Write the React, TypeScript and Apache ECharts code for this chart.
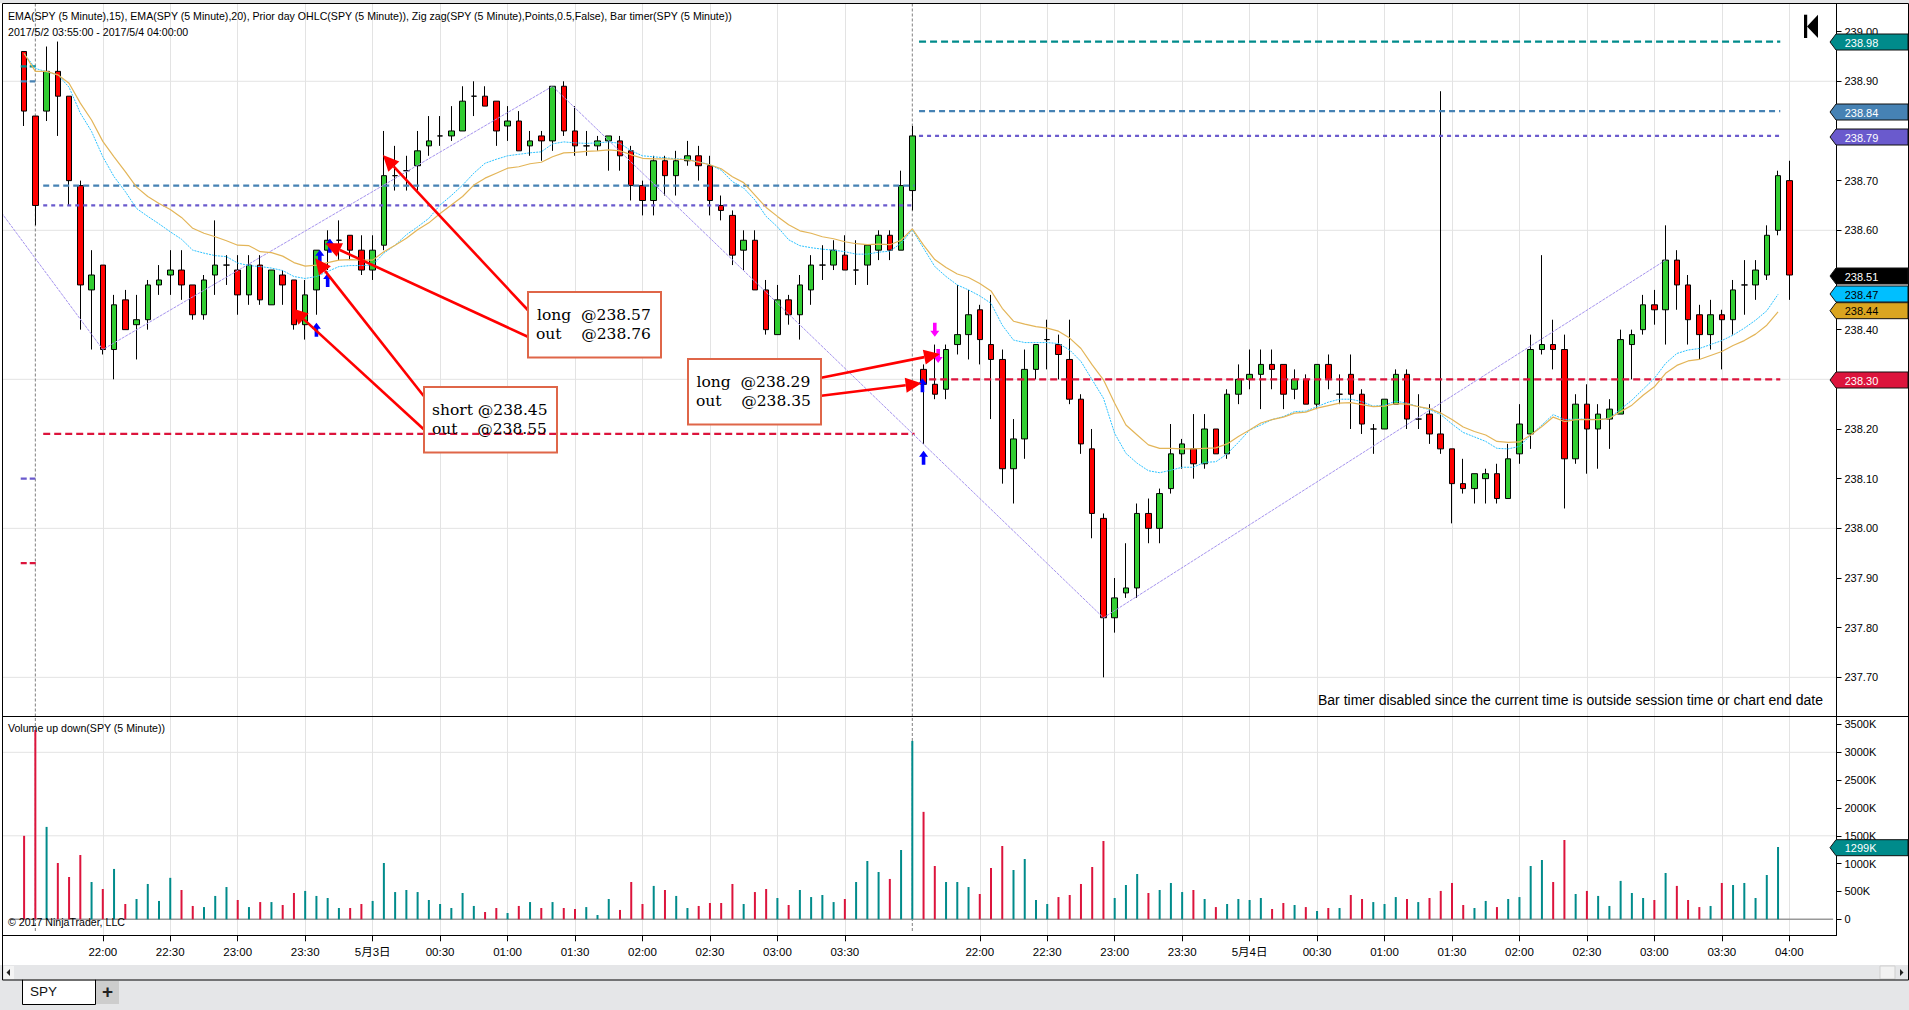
import React, { useEffect, useRef } from "react";
import * as echarts from "echarts";

const opens = [238.96,238.83,238.84,238.92,238.87,238.69,238.48,238.53,238.36,238.46,
238.41,238.42,238.49,238.51,238.52,238.49,238.43,238.51,238.53,238.52,
238.47,238.53,238.45,238.51,238.50,238.41,238.48,238.56,238.58,238.59,
238.56,238.52,238.57,238.71,238.72,238.73,238.77,238.79,238.79,238.80,
238.87,238.87,238.86,238.81,238.82,238.77,238.79,238.78,238.89,238.80,
238.77,238.77,238.78,238.78,238.76,238.69,238.66,238.74,238.71,238.74,
238.75,238.73,238.65,238.63,238.56,238.58,238.48,238.39,238.46,238.43,
238.48,238.53,238.53,238.55,238.52,238.53,238.56,238.59,238.56,238.68,
238.32,238.29,238.28,238.37,238.39,238.44,238.37,238.34,238.12,238.18,
238.32,238.38,238.37,238.34,238.26,238.16,238.02,237.82,237.87,237.88,
238.03,238.00,238.08,238.15,238.16,238.13,238.20,238.15,238.27,238.30,
238.31,238.33,238.33,238.28,238.30,238.25,238.33,238.27,238.31,238.27,
238.20,238.20,238.25,238.31,238.22,238.23,238.19,238.16,238.09,238.08,
238.10,238.11,238.06,238.15,238.19,238.36,238.37,238.36,238.14,238.25,
238.20,238.22,238.23,238.37,238.40,238.45,238.44,238.54,238.49,238.43,
238.39,238.43,238.42,238.49,238.49,238.51,238.60,238.70];
const closes = [238.84,238.65,238.92,238.87,238.70,238.49,238.51,238.36,238.45,238.40,
238.42,238.49,238.50,238.52,238.49,238.43,238.50,238.53,238.53,238.47,
238.53,238.46,238.52,238.49,238.41,238.47,238.56,238.58,238.58,238.56,
238.52,238.56,238.71,238.71,238.72,238.76,238.78,238.79,238.80,238.86,
238.87,238.85,238.80,238.82,238.76,238.78,238.78,238.89,238.80,238.77,
238.77,238.78,238.79,238.75,238.69,238.66,238.74,238.71,238.74,238.75,
238.73,238.66,238.64,238.55,238.58,238.48,238.40,238.46,238.43,238.49,
238.53,238.53,238.56,238.52,238.52,238.57,238.59,238.56,238.69,238.79,
238.29,238.27,238.36,238.39,238.43,238.38,238.34,238.12,238.18,238.32,
238.37,238.38,238.35,238.26,238.17,238.03,237.82,237.86,237.88,238.03,
238.00,238.07,238.15,238.17,238.13,238.20,238.15,238.27,238.30,238.31,
238.33,238.32,238.27,238.30,238.25,238.33,238.30,238.27,238.27,238.21,
238.20,238.26,238.31,238.22,238.22,238.19,238.16,238.09,238.08,238.11,
238.11,238.06,238.14,238.21,238.36,238.37,238.36,238.14,238.25,238.20,
238.23,238.24,238.38,238.39,238.45,238.44,238.54,238.49,238.42,238.39,
238.43,238.42,238.48,238.49,238.52,238.59,238.71,238.51];
const lows = [238.81,238.61,238.82,238.79,238.65,238.40,238.36,238.35,238.30,238.40,
238.34,238.40,238.47,238.47,238.46,238.42,238.42,238.47,238.49,238.43,
238.45,238.45,238.45,238.45,238.40,238.38,238.43,238.52,238.54,238.54,
238.51,238.50,238.56,238.68,238.68,238.68,238.75,238.77,238.78,238.80,
238.83,238.85,238.77,238.78,238.76,238.75,238.74,238.76,238.79,238.75,
238.75,238.76,238.72,238.72,238.66,238.63,238.63,238.67,238.67,238.73,
238.70,238.63,238.62,238.53,238.52,238.48,238.39,238.39,238.41,238.38,
238.45,238.50,238.52,238.52,238.49,238.49,238.54,238.54,238.56,238.64,
238.17,238.26,238.26,238.35,238.34,238.33,238.22,238.09,238.05,238.14,
238.30,238.32,238.30,238.25,238.15,237.98,237.70,237.79,237.86,237.86,
237.97,237.97,238.07,238.12,238.10,238.12,238.15,238.14,238.25,238.28,
238.24,238.28,238.24,238.26,238.25,238.24,238.28,238.25,238.20,238.19,
238.15,238.20,238.25,238.20,238.20,238.17,238.15,238.01,238.07,238.05,
238.05,238.05,238.06,238.13,238.16,238.35,238.32,238.04,238.13,238.11,
238.12,238.16,238.23,238.30,238.39,238.41,238.37,238.44,238.37,238.34,
238.36,238.32,238.39,238.43,238.46,238.50,238.59,238.46];
const highs = [238.96,238.83,238.97,238.98,238.87,238.70,238.56,238.53,238.47,238.48,
238.47,238.50,238.53,238.56,238.56,238.49,238.51,238.62,238.55,238.55,
238.55,238.55,238.52,238.52,238.50,238.50,238.56,238.60,238.62,238.59,
238.59,238.59,238.80,238.77,238.75,238.80,238.83,238.83,238.85,238.89,
238.90,238.89,238.86,238.85,238.84,238.80,238.80,238.89,238.90,238.85,
238.80,238.79,238.79,238.79,238.77,238.70,238.75,238.75,238.76,238.78,
238.77,238.75,238.67,238.64,238.60,238.60,238.50,238.49,238.47,238.51,
238.55,238.57,238.58,238.59,238.58,238.57,238.60,238.60,238.72,238.81,
238.33,238.37,238.37,238.49,238.48,238.45,238.47,238.36,238.22,238.36,
238.37,238.42,238.39,238.42,238.27,238.20,238.03,237.90,237.97,238.05,
238.06,238.08,238.21,238.18,238.23,238.23,238.20,238.28,238.33,238.36,
238.36,238.36,238.33,238.32,238.31,238.33,238.35,238.31,238.35,238.28,
238.21,238.26,238.32,238.32,238.27,238.25,238.88,238.16,238.14,238.11,
238.12,238.13,238.17,238.25,238.39,238.55,238.42,238.39,238.27,238.29,
238.25,238.26,238.40,238.40,238.47,238.48,238.61,238.56,238.51,238.45,
238.46,238.44,238.50,238.54,238.54,238.61,238.72,238.74];
const volumes = [1500,3400,1660,1012,760,1155,670,545,905,275,
365,635,330,745,527,240,220,420,580,347,
220,310,310,257,473,510,420,383,203,203,
275,330,1012,490,527,490,347,275,203,473,
240,132,203,114,240,310,203,310,203,185,
220,78,365,168,670,275,600,527,420,203,
240,293,293,635,275,490,545,383,257,527,
400,437,310,365,670,1048,850,725,1245,3204,
1930,958,670,670,580,455,922,1317,886,1084,
347,275,400,437,635,940,1407,383,617,814,
473,527,653,490,527,365,220,275,365,347,
383,185,293,257,220,150,203,203,437,365,
310,275,400,365,310,383,510,653,257,203,
330,220,365,400,958,1066,670,1425,455,510,
420,240,690,473,383,347,832,600,347,220,
240,653,617,653,383,796,1299];
const ema15 = [238.956,238.926,238.919,238.913,238.888,238.836,238.799,238.748,238.708,238.678,
238.644,238.628,238.613,238.597,238.582,238.56,238.554,238.549,238.547,238.534,
238.529,238.527,238.524,238.519,238.507,238.503,238.507,238.517,238.527,238.529,
238.529,238.53,238.554,238.57,238.591,238.607,238.624,238.651,238.67,238.691,
238.715,238.735,238.743,238.75,238.753,238.756,238.758,238.774,238.778,238.776,
238.775,238.776,238.778,238.775,238.76,238.75,238.748,238.746,238.744,238.743,
238.738,238.732,238.721,238.698,238.685,238.661,238.628,238.607,238.581,238.569,
238.565,238.562,238.56,238.557,238.552,238.552,238.556,238.558,238.574,238.601,
238.564,238.527,238.507,238.49,238.48,238.468,238.453,238.409,238.379,238.374,
238.374,238.374,238.372,238.359,238.336,238.299,238.262,238.191,238.151,238.131,
238.116,238.112,238.117,238.123,238.123,238.133,238.134,238.15,238.173,238.198,
238.208,238.219,238.225,238.235,238.236,238.245,238.254,238.26,238.26,238.255,
238.246,238.248,238.256,238.252,238.245,238.239,238.229,238.21,238.193,238.184,
238.175,238.161,238.16,238.165,238.188,238.208,238.229,238.219,238.22,238.22,
238.219,238.222,238.24,238.258,238.28,238.302,238.332,238.352,238.359,238.362,
238.37,238.378,238.389,238.403,238.419,238.438,238.471];
const ema20 = [238.956,238.92,238.92,238.913,238.896,238.856,238.822,238.779,238.748,238.718,
238.687,238.668,238.654,238.642,238.626,238.604,238.594,238.587,238.579,238.57,
238.569,238.557,238.555,238.548,238.535,238.528,238.53,238.535,238.54,238.541,
238.54,238.54,238.557,238.57,238.584,238.601,238.615,238.634,238.651,238.668,
238.691,238.705,238.715,238.725,238.728,238.734,238.737,238.748,238.756,238.757,
238.759,238.76,238.762,238.76,238.752,238.745,238.744,238.744,238.743,238.742,
238.737,238.732,238.724,238.708,238.696,238.671,238.646,238.628,238.611,238.599,
238.594,238.587,238.583,238.577,238.573,238.571,238.572,238.571,238.58,238.603,
238.57,238.541,238.525,238.512,238.505,238.493,238.478,238.443,238.417,238.411,
238.406,238.403,238.397,238.383,238.362,238.329,238.299,238.252,238.208,238.188,
238.168,238.161,238.161,238.16,238.16,238.161,238.162,238.17,238.185,238.198,
238.212,238.219,238.224,238.232,238.234,238.242,238.247,238.252,238.253,238.249,
238.245,238.246,238.251,238.25,238.245,238.241,238.232,238.219,238.204,238.195,
238.188,238.175,238.173,238.174,238.188,238.205,238.224,238.215,238.219,238.219,
238.219,238.221,238.235,238.248,238.268,238.285,238.312,238.328,238.337,238.34,
238.348,238.356,238.368,238.378,238.391,238.409,238.436];
const zigzag = [[-2, 238.635], [7, 238.36], [47, 238.89], [96, 237.82], [146, 238.54]];

const tickIndices = [7,13,19,25,31,37,43,49,55,61,67,73,85,91,97,103,109,115,121,127,133,139,145,151,157];
const tickLabels = ["22:00","22:30","23:00","23:30","5月3日","00:30","01:00","01:30","02:00","02:30","03:00","03:30","22:00","22:30","23:00","23:30","5月4日","00:30","01:00","01:30","02:00","02:30","03:00","03:30","04:00"];
const priceTicks = [237.7,237.8,237.9,238.0,238.1,238.2,238.3,238.4,238.5,238.6,238.7,238.9,239.0];
const priceGrid = [237.7,238.0,238.3,238.6,238.9];
const volumeTicks = [0,500,1000,1500,2000,2500,3000,3500];
const volumeGrid = [1500,3000];
const sessionBreaks = [1, 79];
const upArrows = [[26,238.40],[27,238.50],[80,238.142],[27.2,238.569],[26.3,238.547],[79.9,238.288]];
const downArrows = [[81,238.4],[81.3,238.347]];

const C = { up:"#32CD32", down:"#FF0000", teal:"#008B8B", crimson:"#DC143C", steel:"#4682B4", slate:"#6A5ACD",
  grid:"#e3e3e3", cyan:"#2cc3ff", gold:"#e3b558", zig:"#a593ee", box:"#df6648", shell:"#e5e6e8" };
const SANS = '"Liberation Sans", Arial, sans-serif';

// prior-day OHLC levels: [price, colour, dash, from, to]
const levels: any[] = [
  [238.93, C.teal, [6,3], -0.3, 1.1],[238.90, C.steel, [6,3], -0.3, 1.0],[238.10, C.slate, [6,3], -0.3, 1.0],[237.93, C.crimson, [6,3], -0.3, 1.2],
  [238.69, C.steel, [6,4], 1.7, 79.2],[238.65, C.slate, [4,4], 1.7, 79.2],[238.19, C.crimson, [7,4], 1.7, 79.2],
  [238.98, C.teal, [7,4], 79.6, 156.2],[238.84, C.steel, [6,4], 79.6, 156.2],[238.79, C.slate, [4,4], 79.6, 156.2],[238.30, C.crimson, [7,4], 80.5, 156.2],
];
const pills: any[] = [
  ["238.98",42,C.teal,"#fff"],["238.84",112,C.steel,"#fff"],["238.79",137,C.slate,"#fff"],["238.51",276,"#000","#fff"],
  ["238.47",294,"#00BFFF","#000"],["238.44",310.7,"#DAA520","#000"],["238.30",380,C.crimson,"#fff"],["1299K",847.7,C.teal,"#fff"],
];
const noteBoxes: any[] = [
  { x:528, y:292, w:133, h:65.5, lines:[["long  @238.57",537,315],["out    @238.76",536,334]] },
  { x:424, y:387, w:133, h:65.5, lines:[["short @238.45",432,410],["out    @238.55",432,429.3]] },
  { x:688, y:359, w:133, h:65.5, lines:[["long  @238.29",696.5,382.3],["out    @238.35",696,401.3]] },
];
const callouts = [
  [527.8,310,382.9,155],[527.8,336.7,325.3,243.3],[423.7,396,315.1,258.3],[423.7,429.3,291.8,308.3],[821.2,377.7,940,354],[821.2,395.7,921.6,383.3],
];

const X_MIN = -1.8767, X_MAX = 161.2;
const P_MIN = 237.6212, P_MAX = 239.0566;
const V_MIN = -287, V_MAX = 3643;

function txt(text: string, x: number, y: number, size: number, extra: any = {}) {
  return { type:"text", z:20, silent:true, style:{ text, x, y, fill:"#000", font:`${size}px ${SANS}`, textAlign:"left", textVerticalAlign:"middle", ...extra } };
}
function rect(x:number,y:number,w:number,h:number,fill:string,z=0,stroke?:string,lw=1){
  return { type:"rect", z, silent:true, shape:{x,y,width:w,height:h}, style:{fill, stroke, lineWidth:lw} };
}
function ln(x1:number,y1:number,x2:number,y2:number,stroke:string,lw=1,z=15){
  return { type:"line", z, silent:true, shape:{x1,y1,x2,y2}, style:{stroke, lineWidth:lw} };
}
function arrow(a:number[]){
  const [x1,y1,x2,y2]=a; const L=Math.hypot(x2-x1,y2-y1); const ux=(x2-x1)/L, uy=(y2-y1)/L; const hl=16, hw=7.5;
  const bx=x2-ux*hl, by=y2-uy*hl;
  return [ ln(x1,y1,bx,by,"#f00",2.6,18),
    { type:"polygon", z:18, silent:true, shape:{points:[[x2,y2],[bx-uy*hw,by+ux*hw],[bx+uy*hw,by-ux*hw]]}, style:{fill:"#f00"} } ];
}
function pill(p:any[]){
  const [t,cy,bg,fg]=p;
  return [
    { type:"polygon", z:16, silent:true, shape:{points:[[1830,cy],[1836,cy-8],[1908,cy-8],[1908,cy+8],[1836,cy+8]]}, style:{fill:bg, stroke:"#111", lineWidth:1} },
    txt(t,1844.7,cy+0.5,11,{fill:fg}),
  ];
}

function staticLine(data:number[][], color:string, width:number, type:any, xi:number, z=1): any {
  return { type:"line", xAxisIndex:xi, yAxisIndex:xi, data, showSymbol:false, symbol:"none", silent:true, z,
    lineStyle:{ color, width, type }, itemStyle:{color}, animation:false };
}

export default function App() {
  const ref = useRef<HTMLDivElement>(null);
  useEffect(() => {
    document.body.style.margin = "0";
    const chart = echarts.init(ref.current!, undefined, { renderer: "svg" });
    const candles = opens.map((o,i)=>[i,o,closes[i],lows[i],highs[i]]);
    const volData = volumes.map((v,i)=>({ value:[i,v], itemStyle:{ color: closes[i]<opens[i] ? C.crimson : C.teal } }));
    const baseX = { type:"value", min:X_MIN, max:X_MAX, axisLine:{show:false, onZero:false},
      axisTick:{show:false, customValues:tickIndices}, splitLine:{show:true, lineStyle:{color:C.grid,width:1}}, axisLabel:{show:false, customValues:tickIndices} };
    const option: any = {
      animation:false, backgroundColor:"#fff",
      grid:[ {left:3, right:72.5, top:3.5, height:713}, {left:3, right:72.5, top:716.5, height:218.8} ],
      xAxis:[ {...baseX, gridIndex:0},
        {...baseX, gridIndex:1,
          axisTick:{show:true, length:6, lineStyle:{color:"#000"}, customValues:tickIndices},
          axisLine:{show:true, onZero:false, lineStyle:{color:"#000"}},
          axisLabel:{show:true, customValues:tickIndices, margin:11, color:"#000", fontSize:11.5, fontFamily:`${SANS}, "Noto Sans CJK SC"`,
            hideOverlap:false, showMinLabel:true, showMaxLabel:true,
            formatter:(v:number)=>{ const k=tickIndices.indexOf(Math.round(v)); return k>=0?tickLabels[k]:""; } } } ],
      yAxis:[
        { type:"value", gridIndex:0, position:"right", min:P_MIN, max:P_MAX, splitLine:{show:false},
          axisLine:{show:true, onZero:false, lineStyle:{color:"#000"}}, axisTick:{show:true, length:5, lineStyle:{color:"#000"}, customValues:priceTicks},
          axisLabel:{customValues:priceTicks, margin:8, color:"#000", fontSize:11, padding:[2,0,0,0], fontFamily:SANS, formatter:(v:number)=>v.toFixed(2)} },
        { type:"value", gridIndex:1, position:"right", min:V_MIN, max:V_MAX, splitLine:{show:false},
          axisLine:{show:true, onZero:false, lineStyle:{color:"#000"}}, axisTick:{show:true, length:5, lineStyle:{color:"#000"}, customValues:volumeTicks},
          axisLabel:{customValues:volumeTicks, margin:8, color:"#000", fontSize:11, padding:[2,0,0,0], fontFamily:SANS, formatter:(v:number)=>v===0?"0":`${v}K`} } ],
      series:[
        ...priceGrid.map(p=>staticLine([[X_MIN,p],[X_MAX,p]],C.grid,1,"solid",0,0)),
        ...volumeGrid.map(v=>staticLine([[X_MIN,v],[X_MAX,v]],C.grid,1,"solid",1,0)),
        staticLine([[X_MIN+0.6,0],[X_MAX-0.3,0]],"#999",1.5,"solid",1,3),
        ...sessionBreaks.map(b=>staticLine([[b,P_MIN],[b,P_MAX]],"#808080",1,[3,2],0,1)),
        ...sessionBreaks.map(b=>staticLine([[b,-210],[b,V_MAX]],"#808080",1,[3,2],1,1)),
        { type:"candlestick", xAxisIndex:0, yAxisIndex:0, data:candles, barWidth:6, z:3, silent:true,
          itemStyle:{ color:C.up, color0:C.down, borderColor:"#000", borderColor0:"#000", borderColorDoji:"#000", borderWidth:1 } },
        ...levels.map(l=>staticLine([[l[3],l[0]],[l[4],l[0]]],l[1],2.2,l[2],0,4)),
        staticLine(zigzag,C.zig,1,[3,1],0,5),
        staticLine(ema15.map((v,i)=>[i,v]),C.cyan,1,[2,1],0,6),
        staticLine(ema20.map((v,i)=>[i,v]),C.gold,1.2,"solid",0,6),
        { type:"scatter", xAxisIndex:0, yAxisIndex:0, z:7, silent:true, data:upArrows, symbol:"path://M5 0L10 6L7 6L7 14L3 14L3 6L0 6Z", symbolSize:[9,14], itemStyle:{color:"#0000ff", opacity:1} },
        { type:"scatter", xAxisIndex:0, yAxisIndex:0, z:7, silent:true, data:downArrows, symbol:"path://M5 0L10 6L7 6L7 14L3 14L3 6L0 6Z", symbolRotate:180, symbolSize:[9,14], itemStyle:{color:"#ff00ff", opacity:1} },
        { type:"bar", xAxisIndex:1, yAxisIndex:1, data:volData, barWidth:2, z:4, silent:true },
      ],
      graphic:{ elements:[
        rect(0,0,1909,3,C.shell,-1),
        rect(0,965,1909,15,C.shell,10),
        rect(0,980,1909,30,C.shell,10),
        rect(4,966,10,13,"#f4f4f4",11),
        { type:"polygon", z:12, silent:true, shape:{points:[[6.5,972.5],[10,969],[10,976]]}, style:{fill:"#222"} },
        rect(1880,966,15,13,"#f2f2f2",11,"#cfcfcf"),
        { type:"polygon", z:12, silent:true, shape:{points:[[1903.5,972.5],[1900,969],[1900,976]]}, style:{fill:"#222"} },
        ln(2.5,3.5,2.5,980,"#000"), ln(1908.5,3.5,1908.5,980,"#000"), ln(2.5,3.5,1908.5,3.5,"#000"),
        ln(2.5,716.5,1908.5,716.5,"#000"), ln(2.5,980,1908.5,980,"#000"), ln(1836.5,3.5,1836.5,935.3,"#000"),
        rect(96,981,23,23,"#cdcdcd",11),
        { type:"polygon", z:12, silent:true, shape:{points:[[22.5,980],[22.5,1004.5],[95.5,1004.5],[95.5,980]]}, style:{fill:"#fff", stroke:"#000", lineWidth:1} },
        ln(23,980,95,980,"#fff",1.5,13),
        txt("SPY",30,991.5,13.5,{fill:"#111"}),
        txt("+",102,991,19,{fill:"#222", font:`bold 19px ${SANS}`}),
        txt("EMA(SPY (5 Minute),15), EMA(SPY (5 Minute),20), Prior day OHLC(SPY (5 Minute)), Zig zag(SPY (5 Minute),Points,0.5,False), Bar timer(SPY (5 Minute))",8,15.5,10.6),
        txt("2017/5/2 03:55:00 - 2017/5/4 04:00:00",8,32,10.6),
        txt("Volume up down(SPY (5 Minute))",8,728,10.6),
        txt("© 2017 NinjaTrader, LLC",8,921.5,10.6),
        txt("Bar timer disabled since the current time is outside session time or chart end date",1318,699.5,14),
        rect(1804,14.7,3.2,23.3,"#000",20),
        { type:"polygon", z:20, silent:true, shape:{points:[[1807,26.4],[1818,14.7],[1818,38]]}, style:{fill:"#000"} },
        ...noteBoxes.flatMap(b=>[
          rect(b.x,b.y,b.w,b.h,"#fff",1),
          rect(b.x,b.y,b.w,b.h,"transparent",19,C.box,2),
          ...b.lines.map((l:any[])=>txt(l[0],l[1],l[2],15.5,{font:'15.5px "DejaVu Serif"', fill:"#000"})),
        ]),
        ...callouts.flatMap(arrow),
        ...pills.flatMap(pill),
      ] },
    };
    chart.setOption(option);
    return () => chart.dispose();
  }, []);
  return <div ref={ref} style={{ position:"fixed", left:0, top:0, width:1909, height:1010 }} />;
}
